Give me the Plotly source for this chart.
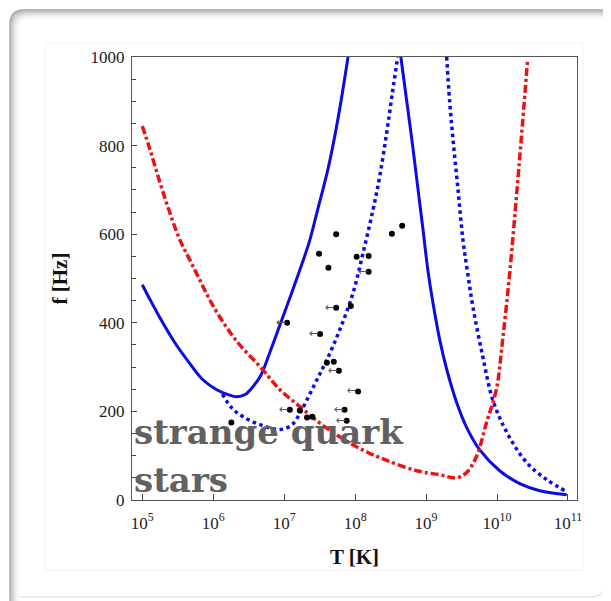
import math
import plotly.graph_objects as go

# ---------------- data ----------------
# blue solid, left branch
bs1_T = [1.0e5, 1.29e5, 1.78e5, 2.88e5, 4.68e5, 7.08e5, 1.12e6, 1.62e6, 2.14e6, 2.82e6,
         3.63e6, 4.57e6, 6.31e6, 8.71e6, 1.20e7, 1.66e7, 2.29e7, 2.95e7, 4.17e7, 5.75e7,
         7.94e7]
bs1_f = [486, 452, 411, 355, 308, 272, 249, 238, 233, 238,
         256, 278, 334, 395, 456, 519, 586, 654, 749, 862,
         1000]
# blue solid, right branch
bs2_T = [4.41e8, 5.36e8, 6.50e8, 7.66e8, 8.99e8, 1.06e9, 1.24e9, 1.56e9, 1.96e9, 2.71e9,
         3.75e9, 5.71e9, 1.09e10, 2.09e10, 4.00e10, 9.59e10]
bs2_f = [1000, 898, 797, 704, 614, 519, 448, 361, 294, 219,
         163, 113, 66, 37, 21, 12]
# blue dotted, left branch
bd1_T = [1.35e6, 1.82e6, 2.63e6, 4.57e6, 8.71e6, 1.29e7, 1.66e7, 2.09e7, 2.88e7, 3.98e7,
         6.03e7, 9.33e7, 1.29e8, 1.78e8, 2.24e8, 2.82e8, 3.39e8, 3.98e8]
bd1_f = [239, 208, 188, 170, 159, 170, 195, 226, 271, 316,
         383, 467, 557, 654, 734, 835, 925, 1000]
# blue dotted, right branch
bd2_T = [1.95e9, 2.14e9, 2.40e9, 2.82e9, 3.31e9, 3.89e9, 4.57e9, 6.31e9, 8.71e9, 1.38e10,
         2.63e10, 5.01e10, 9.55e10]
bd2_f = [1000, 903, 813, 700, 587, 508, 436, 323, 226, 152,
         84, 46, 19]
# red dash-dot
red_T = [1.0e5, 1.29e5, 1.78e5, 2.45e5, 3.39e5, 4.68e5, 6.46e5, 8.91e5, 1.45e6, 2.34e6,
         4.57e6, 8.71e6, 1.66e7, 3.16e7, 6.03e7, 1.17e8, 2.63e8, 7.41e8, 1.55e9, 2.69e9,
         3.72e9, 5.13e9, 7.08e9, 9.77e9, 1.20e10, 1.51e10, 1.91e10, 2.29e10, 2.69e10]
red_f = [844, 790, 716, 648, 587, 542, 497, 452, 396, 351,
         301, 249, 211, 174, 143, 116, 91, 66, 57, 50,
         62, 98, 174, 249, 362, 513, 700, 851, 993]
# observed sources (measured T)
obs_T = [5.4e7, 3.1e7, 4.2e7, 1.05e8, 1.55e8, 3.3e8, 4.6e8, 8.7e7, 4.0e7, 5.0e7,
         1.66e7, 2.5e7, 2.1e7, 1.8e6]
obs_f = [600, 556, 524, 549, 551, 601, 619, 438, 310, 312,
         202, 188, 186, 175]
# sources with upper limits on T
lim_T = [1.55e8, 5.4e7, 1.1e7, 3.2e7, 5.9e7, 1.1e8, 1.2e7, 7.1e7, 7.6e7]
lim_f = [515, 434, 400, 375, 292, 245, 204, 204, 179]

x_tickvals = [1e5, 1e6, 1e7, 1e8, 1e9, 1e10, 1e11]
x_ticktext = ["10<sup>5</sup>", "10<sup>6</sup>", "10<sup>7</sup>", "10<sup>8</sup>",
              "10<sup>9</sup>", "10<sup>10</sup>", "10<sup>11</sup>"]
y_tickvals = [0, 200, 400, 600, 800, 1000]

# ---------------- figure ----------------
BLUE = "#0b0be6"
RED = "#ee1111"

fig = go.Figure()
fig.add_trace(go.Scatter(x=bs1_T, y=bs1_f, mode="lines", line=dict(color=BLUE, width=3, shape="spline"), hoverinfo="skip"))
fig.add_trace(go.Scatter(x=bs2_T, y=bs2_f, mode="lines", line=dict(color=BLUE, width=3, shape="spline"), hoverinfo="skip"))
fig.add_trace(go.Scatter(x=bd1_T, y=bd1_f, mode="lines", line=dict(color=BLUE, width=3.5, dash="dot", shape="spline"), hoverinfo="skip"))
fig.add_trace(go.Scatter(x=bd2_T, y=bd2_f, mode="lines", line=dict(color=BLUE, width=3.5, dash="dot", shape="spline"), hoverinfo="skip"))
fig.add_trace(go.Scatter(x=red_T, y=red_f, mode="lines", line=dict(color=RED, width=3.5, dash="8px,3px,3px,3px", shape="spline"), hoverinfo="skip"))
fig.add_trace(go.Scatter(x=obs_T + lim_T, y=obs_f + lim_f, mode="markers",
                         marker=dict(color="black", size=6), hoverinfo="skip"))

# left-pointing arrows for temperature upper limits (annotation x on a log axis is log10)
for t, f in zip(lim_T, lim_f):
    fig.add_annotation(x=math.log10(t), y=f, xref="x", yref="y", text="←", showarrow=False,
                       xanchor="right", yanchor="middle", xshift=1, yshift=1,
                       font=dict(family="DejaVu Sans", size=12, color="#555555"))

# text label
TEXT_FONT = dict(family="DejaVu Serif", size=34, color="#616161", weight="bold")
fig.add_annotation(text="strange quark", xref="paper", yref="paper", x=0.0, y=0.153,
                   xanchor="left", yanchor="middle", showarrow=False, font=TEXT_FONT)
fig.add_annotation(text="stars", xref="paper", yref="paper", x=0.0, y=0.045,
                   xanchor="left", yanchor="middle", showarrow=False, font=TEXT_FONT)

# page geometry: the figure div sits 8px from the page's top-left corner
OFF = 8
W, H = 611 - OFF, 601 - OFF
L, R, T_, B = 132, 577, 57, 500   # plot area in page pixels

def px(x):
    return (x - L) / (R - L)
def py(y):
    return (B - y) / (B - T_)

def rounded(x0, y0, x1, y1, r):
    return (f"M {px(x0+r)},{py(y0)} L {px(x1-r)},{py(y0)} Q {px(x1)},{py(y0)} {px(x1)},{py(y0+r)} "
            f"L {px(x1)},{py(y1-r)} Q {px(x1)},{py(y1)} {px(x1-r)},{py(y1)} "
            f"L {px(x0+r)},{py(y1)} Q {px(x0)},{py(y1)} {px(x0)},{py(y1-r)} "
            f"L {px(x0)},{py(y0+r)} Q {px(x0)},{py(y0)} {px(x0+r)},{py(y0)} Z")

shapes = []
shapes.append(dict(type="path", path=rounded(10, 10, 605, 597, 14), xref="paper", yref="paper",
                   line=dict(color="#e6e6e6", width=1.5), layer="below"))
shades = ["#a6a6a6", "#b4b4b4", "#c2c2c2", "#cecece", "#d9d9d9", "#e2e2e2", "#eaeaea", "#f1f1f1", "#f7f7f7"]
for i, c in enumerate(shades):
    shapes.append(dict(type="path", path=rounded(10 + i, 10 + i, 640, 640, 14 - i * 0.5),
                       xref="paper", yref="paper", line=dict(color=c, width=1.3), layer="below"))
shapes.append(dict(type="rect", xref="paper", yref="paper", x0=px(45), x1=px(583), y0=py(43), y1=py(570),
                   line=dict(color="#f3f3f3", width=1), layer="below"))

TICKFONT = dict(family="Liberation Serif", size=17, color="#222222")
fig.update_layout(
    width=W, height=H,
    margin=dict(l=L - OFF, r=611 - R, t=T_ - OFF, b=601 - B),
    paper_bgcolor="white", plot_bgcolor="white",
    showlegend=False,
    shapes=shapes,
    xaxis=dict(type="log", range=[4.855, 11.127], tickvals=x_tickvals, ticktext=x_ticktext,
               ticks="inside", ticklen=6, tickcolor="#444", tickwidth=1,
               showline=True, linecolor="#555", linewidth=1.2, mirror=True,
               showgrid=False, zeroline=False, tickfont=TICKFONT, ticklabelstandoff=7,
               title=dict(text="<b>T [K]</b>", font=dict(family="Liberation Serif", size=21, color="#111"), standoff=17)),
    yaxis=dict(range=[0, 1000], tickvals=y_tickvals,
               ticks="inside", ticklen=5, tickcolor="#444", tickwidth=1,
               minor=dict(dtick=50, ticks="inside", ticklen=4, tickcolor="#444"),
               showline=True, linecolor="#555", linewidth=1.2, mirror=True,
               showgrid=False, zeroline=False, tickfont=TICKFONT, ticklabelstandoff=3,
               title=dict(text="<b>f [Hz]</b>", font=dict(family="Liberation Serif", size=21, color="#111"), standoff=17)),
)

fig.write_html("out.html")
